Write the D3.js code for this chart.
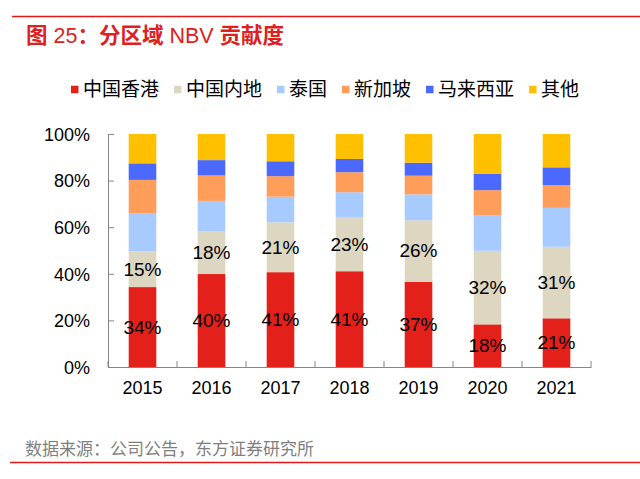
<!DOCTYPE html>
<html>
<head>
<meta charset="utf-8">
<script src="https://cdn.jsdelivr.net/npm/d3@7/dist/d3.min.js"></script>
<style>
  html, body { margin: 0; padding: 0; background: #fff; }
  #graphic { width: 640px; height: 479px; }
  svg text { font-family: "Liberation Sans", Arial, "Noto Sans CJK SC", sans-serif; }
  .axis path, .axis line { stroke: #868686; }
  .axis text { fill: #000; font-size: 18px; }
</style>
</head>
<body>
<div id="graphic"><div class="chart"></div></div>
<script>
// Data
var years    = ["2015", "2016", "2017", "2018", "2019", "2020", "2021"];
var hongkong = [34.3, 39.9, 40.7, 41.1, 36.6, 18.3, 20.9];
var mainland = [15.4, 18.4, 21.4, 23.3, 26.4, 31.6, 30.7];
var thailand = [16.3, 13.0, 11.0, 10.6, 11.1, 15.2, 16.7];
var singapore = [14.3, 10.9, 8.8, 8.6, 8.0, 10.8, 9.8];
var malaysia = [7.1, 6.6, 6.4, 5.7, 5.6, 7.1, 7.6];
var others   = [12.6, 11.2, 11.7, 10.7, 12.3, 17.0, 14.3];
var seriesNames = ["中国香港", "中国内地", "泰国", "新加坡", "马来西亚", "其他"];
var yTicks   = [0, 0.2, 0.4, 0.6, 0.8, 1];

(function() {
  var
  container = document.querySelector("#graphic"),
  chart     = container.querySelector(".chart"),
  W = 640, H = 479,
  margin = { top: 134, left: 108, right: 49, bottom: 112 },
  width  = W - margin.left - margin.right,
  height = H - margin.top - margin.bottom
  ;

  var colors = ["#e3211a", "#ddd6c1", "#a7caff", "#ff9d5a", "#4b69ff", "#ffc000"];
  var keys = ["hk", "ml", "th", "sg", "my", "ot"];
  var cols = [hongkong, mainland, thailand, singapore, malaysia, others];

  var table = years.map(function(y, i) {
    var row = { year: y };
    keys.forEach(function(k, j) { row[k] = cols[j][i]; });
    return row;
  });

  var stack = d3.stack().keys(keys).offset(d3.stackOffsetExpand)(table);

  var svg = d3.select(chart).append("svg")
    .attr("width", W)
    .attr("height", H);

  // Header: rule + title (CJK bold, latin regular)
  svg.append("line").attr("x1", 12).attr("x2", W).attr("y1", 16.5).attr("y2", 16.5)
    .attr("stroke", "#e0191a").attr("stroke-width", 1.5);
  var title = svg.append("text")
    .attr("x", 26).attr("y", 42.5)
    .attr("fill", "#e0201f")
    .attr("font-size", "21.5px");
  [["图", "bold"], [" 25", "normal"], ["：分区域", "bold"], [" NBV ", "normal"], ["贡献度", "bold"]]
    .forEach(function(p) {
      title.append("tspan").attr("font-weight", p[1]).text(p[0]);
    });

  // Footer
  svg.append("line").attr("x1", 10).attr("x2", W).attr("y1", 462.5).attr("y2", 462.5)
    .attr("stroke", "#e0191a").attr("stroke-width", 1.5);
  svg.append("text")
    .attr("x", 25).attr("y", 455)
    .attr("fill", "#7f7f7f")
    .attr("font-size", "17px")
    .text("数据来源：公司公告，东方证券研究所");

  var g = svg.append("g")
    .attr("transform", "translate(" + margin.left + "," + margin.top + ")");

  var x = d3.scaleBand()
    .domain(years)
    .range([0, width])
    .paddingInner(0.6)
    .paddingOuter(0.3);

  var y = d3.scaleLinear()
    .domain([0, 1])
    .range([height, 0]);

  // Bars
  var layers = g.append("g").attr("class", "bars")
    .selectAll("g.layer")
      .data(stack)
    .enter().append("g")
      .attr("class", "layer")
      .attr("fill", function(d, i) { return colors[i]; });

  layers.selectAll("rect")
      .data(function(d) { return d; })
    .enter().append("rect")
      .attr("x", function(d) { return x(d.data.year); })
      .attr("y", function(d) { return y(d[1]); })
      .attr("height", function(d) { return y(d[0]) - y(d[1]); })
      .attr("width", x.bandwidth());

  // Labels for first two series only
  stack.slice(0, 2).forEach(function(layer) {
    g.append("g").selectAll("text")
        .data(layer)
      .enter().append("text")
        .attr("x", function(d) { return x(d.data.year) + x.bandwidth() / 2; })
        .attr("y", function(d) { return y((d[0] + d[1]) / 2); })
        .attr("text-anchor", "middle")
        .attr("dominant-baseline", "central")
        .attr("font-size", "19px")
        .attr("fill", "#000")
        .text(function(d) { return Math.round(d.data[layer.key]) + "%"; });
  });

  // Y axis, ticks pointing inward
  var yAxis = d3.axisLeft(y)
    .tickValues(yTicks)
    .tickSize(-6)
    .tickSizeOuter(0)
    .tickPadding(18)
    .tickFormat(d3.format(".0%"));

  g.append("g").attr("class", "axis y").call(yAxis)
    .selectAll("text").attr("dy", "0.35em");

  // X axis: labels centred, ticks on band boundaries
  var xAxis = d3.axisBottom(x).tickSize(0).tickPadding(14);
  var xg = g.append("g").attr("class", "axis x")
    .attr("transform", "translate(0," + height + ")")
    .call(xAxis);
  xg.selectAll("text").attr("font-size", "19px");

  var bounds = d3.range(years.length + 1).map(function(i) { return i * x.step(); });
  xg.selectAll("line.bound")
      .data(bounds)
    .enter().append("line")
      .attr("class", "bound")
      .attr("x1", function(d) { return d; })
      .attr("x2", function(d) { return d; })
      .attr("y1", 0)
      .attr("y2", -6);

  // Legend
  var legend = svg.append("g").attr("class", "legend");
  var items = legend.selectAll("g.item")
      .data(seriesNames)
    .enter().append("g")
      .attr("class", "item");

  items.append("rect")
    .attr("width", 7.5).attr("height", 7.5)
    .attr("y", -3.75)
    .attr("fill", function(d, i) { return colors[i]; });

  items.append("text")
    .attr("x", 12)
    .attr("dy", "0.35em")
    .attr("font-size", "19px")
    .attr("fill", "#000")
    .text(function(d) { return d; });

  var offset = 0, gap = 15, widths = [];
  items.each(function() {
    var w = 12 + this.querySelector("text").getComputedTextLength();
    widths.push(w);
  });
  var total = d3.sum(widths) + gap * (widths.length - 1);
  var start = 325 - total / 2;
  items.attr("transform", function(d, i) {
    var tx = start + offset;
    offset += widths[i] + gap;
    return "translate(" + tx + ",89.5)";
  });
})();
</script>
</body>
</html>
